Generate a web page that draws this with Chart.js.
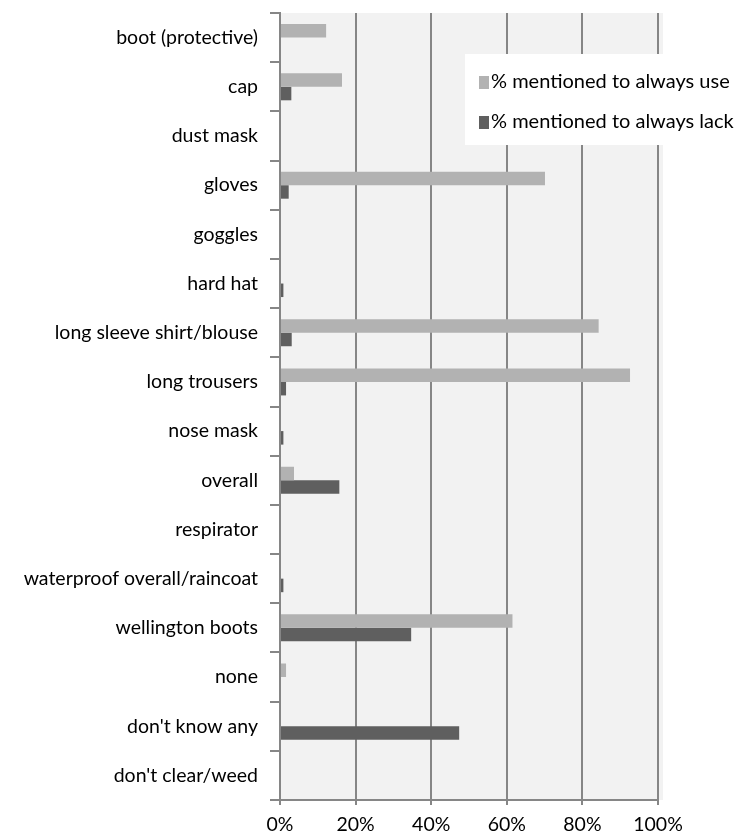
<!DOCTYPE html>
<html>
<head>
<meta charset="utf-8">
<script src="https://cdn.jsdelivr.net/npm/chart.js@4"></script>
<style>
  body { margin: 0; background: #fff; }
  #wrap { width: 752px; height: 835px; }
</style>
</head>
<body>
<div id="wrap"><canvas id="ppeChart" width="752" height="835"></canvas></div>
<script>
// Data
const categories = ["boot (protective)", "cap", "dust mask", "gloves", "goggles", "hard hat",
    "long sleeve shirt/blouse", "long trousers", "nose mask", "overall", "respirator",
    "waterproof overall/raincoat", "wellington boots", "none", "don't know any", "don't clear/weed"];
const alwaysUse = [12.2, 16.4, 0, 70.1, 0, 0, 84.3, 92.6, 0, 3.7, 0, 0, 61.5, 1.6, 0, 0];
const alwaysLack = [0, 3.0, 0, 2.3, 0, 0.9, 3.1, 1.6, 0.9, 15.7, 0, 0.9, 34.7, 0, 47.4, 0];
const seriesNames = ["% mentioned to always use", "% mentioned to always lack"];
const xTicks = [0, 20, 40, 60, 80, 100];

const FONT = "Lato, 'Open Sans', sans-serif";
const gridColor = "#868686";

// grey plot background + white legend box inside the plot
const plotBg = {
    id: "plotBg",
    beforeDraw(chart) {
        const { ctx, chartArea: a } = chart;
        ctx.save();
        ctx.fillStyle = "#f2f2f2";
        ctx.fillRect(a.left, a.top, a.right - a.left + 5, a.bottom - a.top);
        ctx.restore();
    },
    afterDatasetsDraw(chart) {
        const { ctx, chartArea: a } = chart;
        ctx.save();
        ctx.fillStyle = "#ffffff";
        ctx.fillRect(465, 54, a.right + 5 - 465, 91);
        ctx.font = "20px " + FONT;
        ctx.textBaseline = "middle";
        chart.data.datasets.forEach((ds, i) => {
            const y = 82 + i * 40;
            ctx.fillStyle = ds.backgroundColor;
            ctx.fillRect(479, y - 6, 10, 13);
            ctx.fillStyle = "#000";
            ctx.fillText(ds.label, 491, y);
        });
        ctx.restore();
    }
};

new Chart(document.getElementById("ppeChart"), {
    type: "bar",
    data: {
        labels: categories,
        datasets: [
            { label: seriesNames[0], data: alwaysUse, backgroundColor: "#b2b2b2",
              categoryPercentage: 0.55, barPercentage: 1 },
            { label: seriesNames[1], data: alwaysLack, backgroundColor: "#5f5f5f",
              categoryPercentage: 0.55, barPercentage: 1 }
        ]
    },
    options: {
        indexAxis: "y",
        responsive: false,
        animation: false,
        layout: { padding: { top: 13, right: 94, left: 0, bottom: 0 } },
        plugins: { legend: { display: false }, tooltip: { enabled: false } },
        scales: {
            x: {
                min: 0, max: 100,
                afterBuildTicks: axis => { axis.ticks = xTicks.map(v => ({ value: v })); },
                afterFit: axis => { axis.height = 35; },
                ticks: { color: "#000", font: { family: FONT, size: 19.5 }, padding: 8,
                         callback: v => v + "%" },
                grid: { color: gridColor, lineWidth: 2, tickLength: 5 },
                border: { color: gridColor, width: 2 }
            },
            y: {
                afterFit: axis => {
                    axis.width = 280;
                    axis.paddingTop = 0;
                    axis.paddingBottom = 0;
                },
                ticks: { color: "#000", font: { family: FONT, size: 19.5 }, padding: 12 },
                grid: { offset: true, drawOnChartArea: false, color: gridColor, lineWidth: 2, tickLength: 10 },
                border: { color: gridColor, width: 2 }
            }
        }
    },
    plugins: [plotBg]
});
</script>
</body>
</html>
